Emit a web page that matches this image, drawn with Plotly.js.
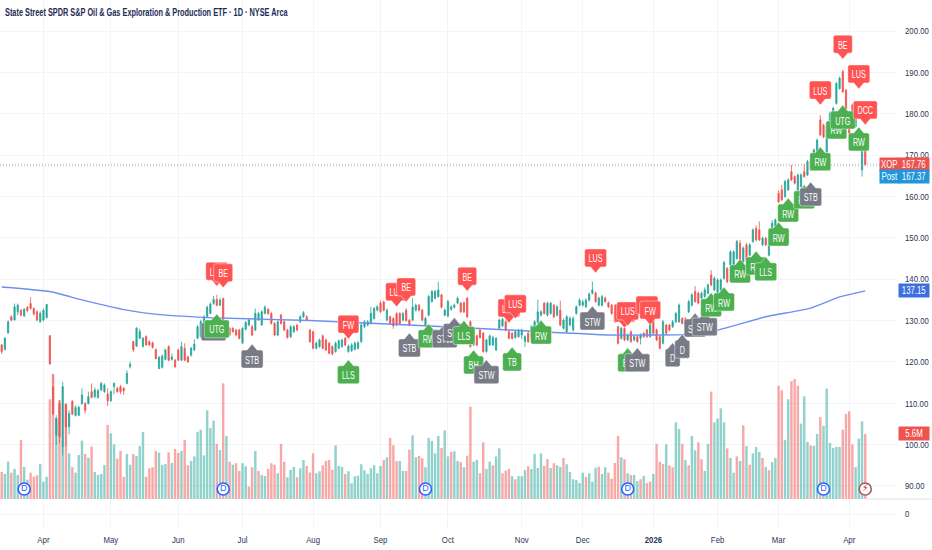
<!DOCTYPE html>
<html><head><meta charset="utf-8">
<script src="https://cdn.plot.ly/plotly-3.0.1.min.js"></script>
<style>html,body{margin:0;padding:0;background:#fff}#c{width:932px;height:550px}</style></head>
<body><div id="c"></div>
<script>
const open = [
124.1,123.0,127.0,130.9,130.1,132.1,132.5,131.1,133.2,134.1,
132.9,132.1,129.7,130.1,130.7,126.3,114,102.3,109.9,99.5,
109.7,104.3,110.5,107,107.1,109.9,109.9,109.9,112.8,111.6,
111.4,113.2,112.8,112.2,110.6,114,113.6,114,113.6,114.8,
118.9,124.9,123.8,125.7,123.7,126.1,124.9,124.6,123,118.4,
118.7,120.6,123.7,120.6,120.4,122.9,120.4,123.3,121.2,121.6,
122.9,125.7,126.1,128.1,130.9,131.7,134.1,135.1,133.7,135.3,
126.1,128.1,128.1,127.7,127.7,124.6,127.9,128.9,128.5,127.7,
130.1,128.9,131.7,132.7,131.7,129.3,126.5,131.3,129.7,127.7,
126.1,127.3,128.9,129.7,130.9,130.9,127.7,127.3,123.3,123.7,
126.3,125.3,124.5,123.7,122.5,123.3,123.7,125.7,122.5,122.7,
123,123.3,124.9,128.5,128.9,129.3,130.5,132.5,134.2,134.5,
130.1,130.9,130.5,131.7,131.7,130.1,132.5,130.1,130.1,132.5,
133.7,132.5,128.9,131.3,134.6,135.4,135.8,136.2,131.3,131.1,
132.7,133.2,134.2,134.2,134.3,135.4,129.7,124.1,126.3,127.7,
126.9,122.5,124.1,124.1,122.9,128.1,128.7,129.7,127.3,126.9,
125.9,126.1,126.5,124.9,126.9,126.1,127.7,129.5,131.3,134.2,
131.3,131.7,133.7,131.3,132.5,128.1,127.3,128.9,127.7,131.7,
133.7,133.7,133.3,134.9,136.6,136.7,133.7,133.7,135.4,134.3,
133.7,132.1,128.5,125.7,128.1,125.3,127.3,125.3,126.1,125.7,
126.9,127.7,126.1,130.5,127.7,126.1,124.5,128.9,128.9,128.5,
129.7,129.7,130.5,130.5,132.1,133.7,137,136.6,135.4,135.8,
136.6,141,137.4,134.6,137.4,140.2,142.6,143.4,143.4,145,
148.7,144.2,148.3,145.8,149.1,152.3,151.9,148.3,149.9,145.8,
150.7,151.5,160.8,161.6,160,161.6,166,164.8,161.6,162.4,
166,165.2,168.8,168,170.8,178.5,177.3,170.8,176.9,178.5,
182.5,186.1,190.2,185.7,178.5,182.1,176.9,179.3,166.4,172.8];
const close = [
122.5,125.7,129.7,130.1,133.3,133.7,131.3,132.7,132.4,132.9,
131.6,130.1,131.7,132.5,133.9,119.5,107.5,106.3,101.9,114,
104.3,107.5,107.4,109,109,112,108.3,111.6,111.4,113.2,
113,114.8,114.4,110.6,112.8,114.8,112.8,112.8,113,117.2,
119.4,122.9,128.1,127.3,125.7,124.1,124.1,123.5,120.8,121.1,
121.4,122.9,120.4,121.2,118.8,120.4,123.7,120.4,120,123.3,
124.3,128.5,129.7,130.9,133.2,134,135.1,133.7,134.9,128.9,
128.5,126.5,127.3,126.5,125.7,128.1,129.5,130.1,126.5,131.7,
131.7,132.1,133.2,131.7,129.3,126.5,129.7,129.3,127.7,125.9,
128.5,128.5,127.7,130.9,131.9,130.1,124.9,123.3,124.5,125.3,
123.3,122.9,122.1,121.9,124.5,125.1,125.3,124.1,123.8,124.1,
124.5,124.6,128.9,129.7,129.7,131.7,132.9,133.3,132.1,132.5,
132.5,129.3,128.7,128.9,129.2,131.7,130,128.9,133.3,133.7,
132.5,130.1,130.5,135.8,137,137,137.4,133.2,132.5,134.6,
133.3,133.7,135.4,132.1,132.1,130.9,123.7,127.3,124.1,125.9,
122.5,125.3,126.3,125.9,125.7,130.1,130.3,127.7,125.7,125.7,
127.3,127.7,127.7,126.1,124.9,128.5,129.7,132.1,132.1,131.7,
134.2,134.2,130.9,133.3,128.9,130.1,130.9,130.5,130.5,133.3,
134.9,134.5,134.9,136.4,137.4,134.6,135.4,135.8,134.6,133.3,
131.7,129.7,124.5,128.1,125.3,126.5,124.9,126.1,124.9,126.5,
126.1,126.1,129.3,126.9,125.3,123.3,129.7,126.9,127.7,129.7,
131.7,133.7,129.3,128.9,134.6,136.2,134.6,134.2,136.6,137.4,
138.6,138.6,140.2,139.8,139.8,144,139.4,146.6,146.6,149.1,
144.2,147.5,144.6,148.3,151.9,149.5,149.5,149.9,148.3,149.9,
153.5,154.3,158.7,159.2,163.6,164,164,163.2,165.2,165.2,
164.8,168.4,166.4,171.2,173.6,174.9,174.4,176.9,180.1,181.3,
187.3,188.6,185.3,179.7,175.3,176.9,179.3,181.7,173.2,167.76];
const high = [
124.3,126,130,131.3,134.1,134.1,132.7,133,133.5,135.6,
133.2,132.5,132.2,132.9,134,126.5,117,107.1,110.7,115.2,
109.9,108.3,110.7,109.5,109.4,113.6,110.3,112.8,114.8,113.8,
113.5,115.1,114.8,113.6,113.1,115,114,114.4,113.9,118,
120.1,125.1,128.4,128,126,126.4,125.2,124.9,123.2,121.4,
121.8,123.2,124,122,120.7,123.2,124.9,124.5,121.5,123.6,
125.5,128.9,130.2,131.3,133.6,134.4,136,136.2,135.5,135.5,
128.9,128.4,128.4,128,128,128.4,129.9,130.6,129,132.9,
132.1,132.5,133.7,133,132,129.6,130,131.6,130,128,
128.9,128.9,129.2,131.3,132.3,131.3,128,127.5,124.9,125.6,
126.6,125.6,124.8,124,124.9,125.4,125.6,126,124.2,124.5,
124.9,125,129.3,130.1,130.1,133.3,133.3,133.7,134.8,134.8,
132.9,131.2,130.8,132,132,132,133,130.4,135.4,134.1,
134,132.8,130.9,136.2,137.4,137.4,139.4,136.5,132.9,135,
133.7,134.1,135.8,134.5,134.6,135.7,130,127.6,126.6,128,
127.2,125.6,126.6,126.3,126,130.5,130.7,130,127.6,127.2,
127.6,128,128,126.4,127.2,128.9,130.1,135,132.5,134.5,
134.6,134.5,134,133.7,134.8,130.5,131.3,131,131,133.7,
135.4,135,135.4,136.8,139.4,137,135.8,136.2,135.8,134.6,
134,132.4,128.8,128.5,128.5,126.9,127.6,126.5,126.4,126.9,
127.2,128,129.7,131,128,126.4,130.1,129.2,129.2,130.1,
132.1,134.1,130.8,130.8,135,136.6,138.3,137,137,138,
139,142.2,140.6,140.2,140.2,144.4,142.9,147,147,149.5,
149.4,147.9,148.8,148.7,152.3,153,154,150.3,150.2,150.3,
154.3,154.7,161.5,162.8,164,164.4,167.6,165.1,165.6,165.6,
167.8,168.8,169.2,171.6,174,179.7,177.6,177.3,180.5,181.7,
187.7,189,190.6,186,178.9,182.5,179.7,182,173.6,173.2];
const low = [
121.9,122.8,126.8,129.8,130.1,131.3,131,130.9,132,132.7,
131.2,129.8,129.5,129.8,130.5,119.3,107,99.9,100.3,97.4,
99.5,102.5,107.1,106.8,106.9,109.7,107.5,109.7,111.2,111.2,
111.1,112.9,112.5,109.3,110.4,112.2,112.5,112.2,112,114.6,
118.4,122.4,123.6,125.5,123.5,123.9,123.8,123.2,120.6,118.2,
118.4,120.4,120.2,120.3,118.6,120.2,120.2,120.2,119.8,121.3,
122.6,125.5,125.9,127.9,130.6,131.5,133.8,133.4,133.5,128.7,
125.9,126.2,127,126.2,125.4,124.3,127.6,128.6,126.2,127.4,
129.9,128.7,131.5,131.4,129,126.2,126.2,129,127.4,125.6,
125.8,127,127.4,129.4,130.6,129.8,124.6,123,123,123.4,
123,122.6,121.8,121.6,122.2,123,123.4,123.8,122.2,122.4,
122.8,123,124.6,128.2,128.6,129,130.2,132.2,131.8,132.2,
129.8,129,128,128.6,128.9,129.8,129.7,128.6,129.8,132.2,
132.2,129.8,128.6,131,134.3,135.1,135.5,132.9,131,130.8,
132.4,132.9,133.9,131.8,131.8,130.6,123.4,123.8,123.8,125.6,
122.2,122.2,123.8,123.8,122.6,127.8,128.4,127.4,125.4,125.4,
125.6,125.8,125.5,123.6,124.6,125.8,127.4,129.2,131,131.4,
131,131.4,130.6,131,128.6,127.8,127,128.6,127.4,131.4,
133.4,133.4,133,134.6,136.3,134.3,133.4,133.4,134.3,133,
131.4,129.4,124.2,125.4,125,125,124.6,125,124.6,124.2,
125.8,125.8,125.8,126.6,125,123,124.2,126.6,127.4,128.2,
129.4,129.4,129,128.6,131.8,133.4,134.3,133.9,135.1,135.5,
136.3,138.3,137.1,134.3,137,139.9,139,143.1,143.1,144.7,
143.9,143.9,144.3,145.5,148.8,149.2,149.2,148,148,145.5,
150.4,151.2,158.4,158.9,159.7,161.3,163.7,162.9,161.3,162.1,
164.5,164.9,166.1,167.7,170.5,174.6,174.1,170.5,176.6,178.2,
182.2,185.8,185,179.4,172.5,176.6,176.6,179,164.8,167.5];
const volumeM = [
2.94,2.80,3.66,2.89,3.15,2.73,5.18,3.29,2.40,2.89,
2.61,2.71,3.48,2.26,2.61,8.02,9.79,6.69,7.97,4.71,
7.74,4.24,3.27,2.89,4.13,5.13,4.2,3.94,4.71,2.94,
2.73,2.80,3.43,6.23,5.64,4.87,3.87,4.41,2.59,4.2,
3.45,4.2,4.06,4.76,5.74,2.61,3.2,3.27,4.41,4.29,
3.43,3.5,4.31,3.57,4.55,4.27,4.41,5.18,3.41,3.71,
4.03,5.74,5.9,4.1,7.25,6.0,6.53,4.9,4.48,9.14,
5.46,3.66,3.45,3.55,3.01,3.55,3.34,1.92,3.27,4.41,
3.01,2.73,2.66,3.15,3.55,3.45,2.85,4.9,3.66,2.57,
3.08,3.29,2.57,3.2,3.78,3.36,2.9,4.24,2.85,2.99,
3.41,3.71,3.78,3.1,4.8,3.36,3.29,2.8,2.99,2.15,
2.64,2.68,3.48,3.06,2.8,3.2,3.41,2.85,3.36,3.78,
3.97,5.32,4.8,3.71,3.71,3.01,3.01,4.5,5.5,3.97,
4.06,3.9,3.27,5.32,5.11,4.24,5.46,4.62,5.85,4.03,
4.34,4.39,3.71,3.62,3.27,4.08,7.5,3.66,3.78,2.85,
5.01,3.15,3.66,3.41,4.03,4.59,2.85,3.03,3.15,2.64,
2.43,2.66,2.64,3.08,3.34,3.15,4.2,3.22,4.24,3.36,
3.83,3.22,3.55,3.41,3.29,3.92,3.48,2.94,2.43,2.38,
2.17,2.89,2.59,2.85,2.26,3.24,3.31,2.8,3.27,2.89,
2.47,3.57,5.46,3.97,3.83,2.85,2.73,2.73,2.3,2.43,
2.66,2.17,2.26,2.8,4.9,3.66,3.5,4.87,3.41,3.27,
6.41,5.95,4.9,3.78,3.41,5.46,4.45,5.01,3.83,3.01,
4.9,8.56,6.41,6.67,7.39,6.41,4.59,3.92,2.89,4.03,
3.71,6.2,4.76,3.45,4.24,4.69,4.34,3.92,3.29,3.06,
3.62,3.92,8.97,8.65,5.18,8.02,9.28,9.44,8.97,6.32,
8.23,5.04,4.8,4.76,5.6,6.78,6.16,8.77,4.97,4.62,
4.69,4.69,5.9,7,7.18,4.87,3.27,5.27,6.48,5.6];
const volumeDir = ("rttrttrttr"+"rrtttrrtrt"+"rtrtttrtrt"+"tttrttrrrt"+"trtttrrrrt"+
"ttrtrrtrrt"+"tttttttrtr"+"trtrrttrrt"+"rttrrrtrrt"+"ttrttrrrtt"+
"rrrrtttrtt"+"tttttttttr"+"trrrttrrtt"+"rrtttttrtt"+"rttrtrrttr"+
"rttrttrrrt"+"rtttrttttr"+"rtrttrtttt"+"ttrtttrttr"+"rrrtrtrttr"+
"trrtrrrtrr"+"ttrtrttrrt"+"trttttrttr"+"trtrtttrtr"+"ttrrttrrrt"+
"ttrttrtttt"+"ttrrrrtttr").split("");
const maBars = [0,15,25,39,47,64,96,127,158,189,212,223,238,252,261,269];
const maValues = [138.1,137.0,135.0,132.5,131.6,130.7,130.0,128.9,127.7,126.5,126.6,127.7,130.9,133.0,135.7,137.15];
const priceTicks = [200,190,180,170,160,150,140,130,120,110,100,90];
const monthBars = [13,34,55,75,97,118,139,162,181,203,223,242,264];
const monthLabels = ["Apr","May","Jun","Jul","Aug","Sep","Oct","Nov","Dec","<b>2026</b>","Feb","Mar","Apr"];
const dividendBars = [7,69,132,195,256];
const tagLabels = ["LUS","BE","STW","UTG","STB","FW","LLS","STB","LUS","BE","RW","STW","STB","LLS","BE","BH","STW","TB","LUS","LUS","RW","LUS","STW","FW","LUS","LUS","FW","BH","STW","STB","D","D","STW","RW","RW","RW","RW","LLS","RW","RW","RW","STB","RW","LUS","RW","UTG","BE","LUS","DCC","RW"];
const tagBars = [67,69,66,67,78,108,108,127,123,126,133,138,141,144,145,147,151,159,158,160,168,185,184,194,195,201,202,195,198,216,209,212,219,221,225,230,235,238,242,245,250,252,255,255,260,262,262,267,269,267];
const tagPrices = [138.3,137.9,130.9,131.6,124.3,125.5,120.5,127.0,133.3,134.5,129.2,129.2,130.7,130.0,137.1,122.9,120.5,123.6,129.4,130.4,130.1,141.5,133.5,128.2,128.7,130.1,128.9,123.4,123.4,131.8,124.6,126.7,132.1,136.7,138.1,144.9,146.8,145.4,153.8,159.6,162.8,163.5,172.0,182.1,179.7,182.1,193.2,186.0,177.3,176.8];
const lastPrice = 167.76, postPrice = 167.37, maLast = 137.15, lastVolume = 5.6;

const FONT = '"Liberation Sans",sans-serif';
const INK = '#2a3557';
const UP = '#26a69a', DOWN = '#ef5350';
const PX_BAR = 3.21, PX_UNIT = 4.136;
const TAG_W = {LUS:22,RW:21,BE:19,FW:21,STW:25,STB:22,UTG:25,LLS:22,D:15,TB:19,BH:20,DCC:24};
const TAG_COL = {red:'#ff5252',green:'#4caf50',gray:'#787b86'};
const kindOf = t => (t==='BE'||t==='FW'||t==='DCC'||t==='LUS') ? 'red' : ((t==='UTG'||t==='LLS'||t==='RW'||t==='TB'||t==='BH') ? 'green' : 'gray');

const bars = open.map((_,i)=>i);
const VOL_FLOOR = 1.05;
const shapes = [
 {type:'line',xref:'paper',yref:'y2',x0:0,x1:898/932,y0:lastPrice,y1:lastPrice,line:{color:'rgba(239,83,80,0.55)',width:1,dash:'1px,2px'}},
 {type:'line',xref:'paper',yref:'y2',x0:0,x1:898/932,y0:postPrice,y1:postPrice,line:{color:'rgba(74,168,232,0.55)',width:1,dash:'1px,2px'}},
 {type:'line',xref:'paper',yref:'paper',x0:866/932,x1:1,y0:(550-22-499)/528,y1:(550-22-499)/528,line:{color:'#eef0f6',width:2}}
];
tagLabels.forEach((t,i)=>{
  const b=tagBars[i], p=tagPrices[i], k=kindOf(t), col=TAG_COL[k];
  const down = k==='red', s = down?1:-1;
  const hw=TAG_W[t]/2/PX_BAR, tw=5/PX_BAR, r=2/PX_BAR, ry=2/PX_UNIT;
  const yn=p+s*6/PX_UNIT, yf=p+s*24/PX_UNIT;
  const path=`M${b},${p} L${b+tw},${yn} L${b+hw-r},${yn} Q${b+hw},${yn} ${b+hw},${yn+s*ry} L${b+hw},${yf-s*ry} Q${b+hw},${yf} ${b+hw-r},${yf} L${b-hw+r},${yf} Q${b-hw},${yf} ${b-hw},${yf-s*ry} L${b-hw},${yn+s*ry} Q${b-hw},${yn} ${b-hw+r},${yn} L${b-tw},${yn} Z`;
  shapes.push({type:'path',xref:'x',yref:'y2',path,fillcolor:col,line:{color:'rgba(255,255,255,0.45)',width:1},layer:'above'});
  shapes.push({type:'rect',xref:'x',yref:'y2',x0:b-hw,x1:b+hw,y0:Math.min(yn,yf),y1:Math.max(yn,yf),fillcolor:'rgba(0,0,0,0)',line:{width:0},layer:'above',
    label:{text:t,font:{family:FONT,size:10,color:'#fff'},textposition:'middle center'}});
});

function tag(text,xpx,yref,y,bg,w,yshift){
  return {text,xref:'paper',yref,x:xpx/932,y,xanchor:'center',yanchor:'middle',yshift:yshift||0,showarrow:false,
    font:{family:FONT,size:10,color:'#fff'},bgcolor:bg,width:w,height:11.5,borderpad:0.5};
}
const annotations=[
 tag('XOP',889,'y2',lastPrice,'#ef5350',18),
 tag(lastPrice.toFixed(2),914,'y2',lastPrice,'#ef5350',29),
 tag('Post',889,'y2',lastPrice,'#2196d9',18,-12.5),
 tag(postPrice.toFixed(2),914,'y2',lastPrice,'#2196d9',29,-12.5),
 tag(maLast.toFixed(2),914,'y2',maLast,'#3d6fe0',29),
 tag(lastVolume.toFixed(1)+'M',914,'y',lastVolume,'#ef5350',29)
];

const traces=[
 {type:'bar',x:bars,y:volumeM.map(v=>v-VOL_FLOOR),base:VOL_FLOOR,width:0.76,xaxis:'x',yaxis:'y',
  marker:{color:volumeDir.map(d=>d==='t'?'rgba(38,166,154,0.5)':'rgba(239,83,80,0.5)'),line:{width:0}}},
 {type:'scatter',mode:'markers+text',x:dividendBars,y:dividendBars.map(()=>1.75),text:dividendBars.map(()=>'D'),textposition:'middle center',
  textfont:{family:FONT,size:9,color:'#2962ff'},marker:{size:12,color:'#fff',line:{color:'#2962ff',width:1.6}},xaxis:'x',yaxis:'y',cliponaxis:false},
 {type:'scatter',mode:'markers+text',x:[269],y:[1.75],text:['⚡'],textposition:'middle center',
  textfont:{family:'"DejaVu Sans"',size:10,color:'#c2413f'},marker:{size:12,color:'#fff',line:{color:'#a85a5a',width:1.6}},xaxis:'x',yaxis:'y',cliponaxis:false},
 {type:'scatter',mode:'lines',x:maBars,y:maValues,line:{color:'#6b90f0',width:1.4,shape:'spline',smoothing:0.4},xaxis:'x',yaxis:'y2'},
 {type:'candlestick',x:bars,open,high,low,close,xaxis:'x',yaxis:'y2',whiskerwidth:0,
  increasing:{line:{color:UP,width:0.8},fillcolor:UP},decreasing:{line:{color:DOWN,width:0.8},fillcolor:DOWN}}
];

const tickFont={family:FONT,size:9.5,color:INK};
const layout={
 width:932,height:550,showlegend:false,paper_bgcolor:'#fff',plot_bgcolor:'#fff',
 margin:{l:0,r:0,t:0,b:22,pad:0},barmode:'overlay',boxgap:0.45,
 title:{text:'State Street SPDR S&P Oil & Gas Exploration & Production ETF · 1D · NYSE Arca',x:5/932,xanchor:'left',y:1-12/550,yanchor:'middle',
   font:{family:FONT,size:10,color:'#1e2c55',weight:700}},
 xaxis:{domain:[0,898/932],range:[-0.53,279.2],tickvals:monthBars,ticktext:monthLabels,showgrid:true,gridcolor:'#f3f4f7',gridwidth:1,zeroline:false,
   showline:false,ticks:'',tickfont:tickFont,ticklabelstandoff:4,rangeslider:{visible:false},fixedrange:true},
 yaxis:{range:[-0.979,35.944],side:'right',tickvals:[0],ticktext:['0'],showgrid:true,gridcolor:'#f3f4f7',zeroline:false,showline:false,ticks:'',
   tickfont:tickFont,ticklabelstandoff:6,fixedrange:true},
 yaxis2:{range:[79.83,207.5],overlaying:'y',side:'right',anchor:'x',tickvals:priceTicks,ticktext:priceTicks.map(v=>v.toFixed(2)),showgrid:true,gridcolor:'#f3f4f7',
   zeroline:false,showline:false,ticks:'',tickfont:tickFont,ticklabelstandoff:6,fixedrange:true},
 shapes,annotations
};
function condense(sel,f){
  document.querySelectorAll(sel).forEach(t=>{
    if(!t.getComputedTextLength) return;
    const l=t.getComputedTextLength();
    t.setAttribute('textLength',(l*f).toFixed(2));
    t.setAttribute('lengthAdjust','spacingAndGlyphs');
  });
}
Plotly.newPlot('c',traces,layout,{staticPlot:true,displayModeBar:false}).then(()=>{
  condense('.xtick text,.ytick text,.y2tick text',0.82);
  condense('.annotation-text',0.78);
  condense('.gtitle',0.735);
  condense('.shape-label text, text.shape-label, .shape-group text',0.72);
});
</script></body></html>
